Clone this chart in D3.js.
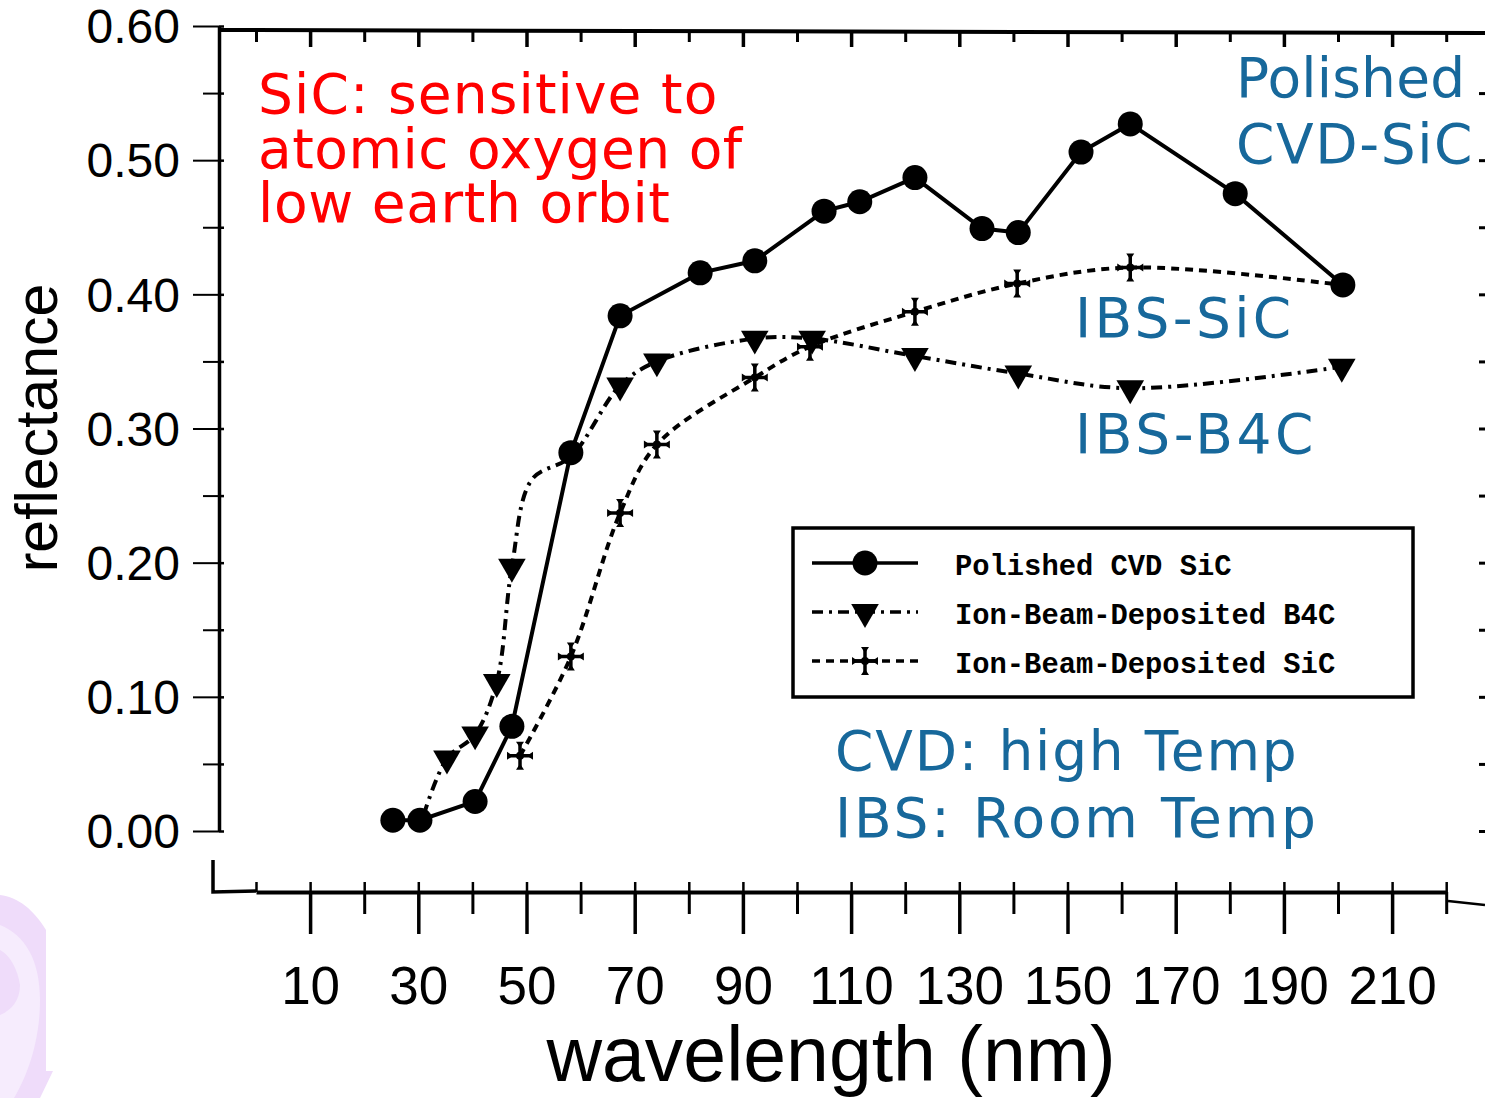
<!DOCTYPE html>
<html>
<meta charset="utf-8">
<script src="https://d3js.org/d3.v7.min.js"></script>
<style>
  body { margin: 0; background: #fff; }
  svg { display: block; }
</style>
<body>
<div id="chart"></div>
<script>
// data (wavelength in nm, reflectance)
const cvdWave = [25.3, 30.3, 40.5, 47.3, 58.2, 67.3, 82.1, 92.2, 105, 111.6, 121.8, 134.2, 140.9, 152.5, 161.6, 181, 200.9];
const cvdRefl = [0.008, 0.008, 0.022, 0.078, 0.282, 0.384, 0.416, 0.425, 0.462, 0.469, 0.487, 0.449, 0.446, 0.506, 0.527, 0.475, 0.407];

const b4cWave = [31, 35.3, 40.5, 44.5, 47.3, 51, 58.2, 67.3, 74.1, 92.2, 102.8, 121.8, 140.9, 161.6, 200.7];
const b4cRefl = [0.012, 0.054, 0.072, 0.111, 0.197, 0.262, 0.279, 0.332, 0.350, 0.367, 0.367, 0.354, 0.341, 0.330, 0.346];
const b4cMark = [0, 1, 1, 1, 1, 0, 0, 1, 1, 1, 1, 1, 1, 1, 1];

const sicWave = [48.8, 58.2, 67.3, 74.1, 92.2, 102.4, 121.8, 140.7, 161.6, 200.7];
const sicRefl = [0.056, 0.130, 0.237, 0.288, 0.338, 0.361, 0.387, 0.408, 0.420, 0.407];
const sicMark = [1, 1, 1, 1, 1, 1, 1, 1, 1, 0];

const xMajor = [10, 30, 50, 70, 90, 110, 130, 150, 170, 190, 210];
const xMinor = [20, 40, 60, 80, 100, 120, 140, 160, 180, 200, 220];
const yMajor = [0, 0.1, 0.2, 0.3, 0.4, 0.5, 0.6];
const yMinor = [0.05, 0.15, 0.25, 0.35, 0.45, 0.55];

const legendLabels = ["Polished CVD SiC", "Ion-Beam-Deposited B4C", "Ion-Beam-Deposited SiC"];

const W = 1485, H = 1098;
const blue = "#17689b";

const svg = d3.select("#chart").append("svg")
  .attr("width", W).attr("height", H);
svg.append("rect").attr("width", W).attr("height", H).attr("fill", "#fff");

// faint logo watermark, bottom left corner
svg.append("path")
  .attr("d", "M0,895 C18,897 34,910 46,930 L46,1071 L53,1071 L40,1098 L0,1098 Z")
  .attr("fill", "#efdcfa");
svg.append("path")
  .attr("d", "M0,925 C25,935 40,960 40,1000 C40,1045 25,1080 14,1098 L0,1098 L0,1015 C12,1010 20,1000 20,985 C18,970 10,955 0,950 Z")
  .attr("fill", "#f6ecfd");

const x = d3.scaleLinear().domain([0, 220]).range([256, 256 + 220 * 5.41]);
const y = d3.scaleLinear().domain([0, 0.6]).range([831, 26]);

const font = "'Liberation Sans', Arial, sans-serif";

// bottom axis
const xAxisY = 892;
svg.append("g").attr("transform", `translate(0,${xAxisY})`)
  .call(d3.axisBottom(x).tickValues(xMajor).tickSize(42).tickPadding(32).tickSizeOuter(0))
  .call(g => g.select(".domain").attr("stroke-width", 4))
  .call(g => g.selectAll(".tick line").attr("stroke-width", 3.5))
  .call(g => g.selectAll(".tick text").attr("font-family", font).attr("font-size", 53).attr("fill", "#000"));
svg.append("g").attr("transform", `translate(0,${xAxisY})`)
  .call(d3.axisBottom(x).tickValues(xMinor).tickSize(22).tickFormat("").tickSizeOuter(0))
  .call(g => g.select(".domain").remove())
  .call(g => g.selectAll(".tick line").attr("stroke-width", 3));
svg.append("g").attr("transform", `translate(0,${xAxisY})`)
  .call(d3.axisTop(x).tickValues(d3.range(0, 221, 10)).tickSize(10).tickFormat("").tickSizeOuter(0))
  .call(g => g.select(".domain").remove())
  .call(g => g.selectAll(".tick line").attr("stroke-width", 2.5));
svg.append("path").attr("d", `M213,860 L213,${xAxisY} L256,${xAxisY - 1}`)
  .attr("fill", "none").attr("stroke", "#000").attr("stroke-width", 3.5);
svg.append("path").attr("d", `M1448,${xAxisY + 9} L1485,${xAxisY + 13}`)
  .attr("fill", "none").attr("stroke", "#000").attr("stroke-width", 2.5);

// left axis
const yAxisX = 219;
svg.append("g").attr("transform", `translate(${yAxisX},0)`)
  .call(d3.axisLeft(y).tickValues(yMajor).tickSize(26).tickPadding(13).tickSizeOuter(0).tickFormat(d3.format(".2f")))
  .call(g => g.select(".domain").attr("stroke-width", 3.5))
  .call(g => g.selectAll(".tick line").attr("stroke-width", 2))
  .call(g => g.selectAll(".tick text").attr("font-family", font).attr("font-size", 48)
    .attr("dy", "0.35em").attr("fill", "#000"));
svg.append("g").attr("transform", `translate(${yAxisX},0)`)
  .call(d3.axisLeft(y).tickValues(yMinor).tickSize(16).tickFormat("").tickSizeOuter(0))
  .call(g => g.select(".domain").remove())
  .call(g => g.selectAll(".tick line").attr("stroke-width", 2));
svg.append("g").attr("transform", `translate(${yAxisX},0)`)
  .call(d3.axisRight(y).tickValues(yMajor.concat(yMinor)).tickSize(5).tickFormat("").tickSizeOuter(0))
  .call(g => g.select(".domain").remove())
  .call(g => g.selectAll(".tick line").attr("stroke-width", 2.5));

// top frame
svg.append("line").attr("x1", yAxisX).attr("y1", 30).attr("x2", W).attr("y2", 33)
  .attr("stroke", "#000").attr("stroke-width", 4);
svg.append("g").attr("transform", "translate(0,31)")
  .call(d3.axisBottom(x).tickValues(xMajor).tickSize(16).tickFormat("").tickSizeOuter(0))
  .call(g => g.select(".domain").remove())
  .call(g => g.selectAll(".tick line").attr("stroke-width", 3.5));
svg.append("g").attr("transform", "translate(0,31)")
  .call(d3.axisBottom(x).tickValues([0].concat(xMinor)).tickSize(11).tickFormat("").tickSizeOuter(0))
  .call(g => g.select(".domain").remove())
  .call(g => g.selectAll(".tick line").attr("stroke-width", 3));

// right frame ticks (axis line itself sits just off the page)
svg.append("g").attr("transform", `translate(${W + 2},0)`)
  .call(d3.axisLeft(y).tickValues(d3.range(0, 0.56, 0.05)).tickSize(8).tickFormat("").tickSizeOuter(0))
  .call(g => g.select(".domain").remove())
  .call(g => g.selectAll(".tick line").attr("stroke-width", 3));

// axis titles
svg.append("text")
  .attr("transform", "translate(57,428) rotate(-90)")
  .attr("text-anchor", "middle")
  .attr("font-family", font).attr("font-size", 59)
  .text("reflectance");
svg.append("text")
  .attr("x", 831).attr("y", 1081)
  .attr("text-anchor", "middle")
  .attr("font-family", font).attr("font-size", 77)
  .text("wavelength (nm)");

// series
const zip = (xs, ys) => xs.map((v, i) => [v, ys[i]]);
const cvd = zip(cvdWave, cvdRefl);
const b4c = zip(b4cWave, b4cRefl);
const sic = zip(sicWave, sicRefl);

const straight = d3.line().x(d => x(d[0])).y(d => y(d[1]));
const smooth = d3.line().x(d => x(d[0])).y(d => y(d[1])).curve(d3.curveCatmullRom.alpha(0.5));

svg.append("path").datum(sic).attr("d", smooth)
  .attr("fill", "none").attr("stroke", "#000").attr("stroke-width", 4)
  .attr("stroke-dasharray", "8,6");
svg.append("path").datum(b4c).attr("d", smooth)
  .attr("fill", "none").attr("stroke", "#000").attr("stroke-width", 4)
  .attr("stroke-dasharray", "11,6,3,6");
svg.append("path").datum(cvd).attr("d", straight)
  .attr("fill", "none").attr("stroke", "#000").attr("stroke-width", 4);

const triangle = d3.symbol().type(d3.symbolTriangle).size(330);
const crossPath = "M0,-13 L0,13 M-12,0 L12,0";
const crossCaps = "M-4,-14 L4,-14 L0,-8 Z M-4,14 L4,14 L0,8 Z M-13,-4 L-13,4 L-7,0 Z M13,-4 L13,4 L7,0 Z";

function drawCross(sel) {
  sel.append("path").attr("d", crossPath).attr("stroke", "#000").attr("stroke-width", 3.5);
  sel.append("path").attr("d", crossCaps).attr("fill", "#000");
  sel.append("circle").attr("r", 4).attr("fill", "#000");
}
function drawTri(sel) {
  sel.append("path").attr("d", triangle).attr("transform", "rotate(180)").attr("fill", "#000");
}

svg.append("g").selectAll("g").data(sic.filter((d, i) => sicMark[i])).join("g")
  .attr("transform", d => `translate(${x(d[0])},${y(d[1])})`)
  .call(drawCross);
svg.append("g").selectAll("g").data(b4c.filter((d, i) => b4cMark[i])).join("g")
  .attr("transform", d => `translate(${x(d[0])},${y(d[1])})`)
  .call(drawTri);
svg.append("g").selectAll("circle").data(cvd).join("circle")
  .attr("cx", d => x(d[0])).attr("cy", d => y(d[1]))
  .attr("r", 12.5).attr("fill", "#000");

// legend
const leg = svg.append("g");
leg.append("rect").attr("x", 793).attr("y", 528).attr("width", 620).attr("height", 169)
  .attr("fill", "#fff").attr("stroke", "#000").attr("stroke-width", 3.5);
const legY = [563, 612, 661];
const legDash = [null, "11,6,3,6", "8,6"];
legendLabels.forEach((lab, i) => {
  leg.append("line").attr("x1", 812).attr("x2", 918).attr("y1", legY[i]).attr("y2", legY[i])
    .attr("stroke", "#000").attr("stroke-width", 3.5).attr("stroke-dasharray", legDash[i]);
  const m = leg.append("g").attr("transform", `translate(865,${legY[i]})`);
  if (i === 0) m.append("circle").attr("r", 12.5).attr("fill", "#000");
  else if (i === 1) drawTri(m);
  else drawCross(m);
  leg.append("text").attr("x", 955).attr("y", legY[i] + 12)
    .attr("font-family", "'Liberation Mono', 'Courier New', monospace")
    .attr("font-weight", "bold").attr("font-size", 28.8)
    .text(lab);
});

// annotations
const note = (lines, x0, y0, dy, color, spacing) => {
  const t = svg.append("text").attr("font-family", "'DejaVu Sans', Verdana, sans-serif")
    .attr("font-size", 55).attr("fill", color);
  lines.forEach((s, i) => t.append("tspan").attr("x", x0).attr("y", y0 + i * dy)
    .attr("letter-spacing", spacing[i]).text(s));
};
note(["SiC: sensitive to", "atomic oxygen of", "low earth orbit"], 258, 113, 54.5, "#ff0000", [1.1, 0.5, 0.6]);
note(["Polished", "CVD-SiC"], 1236, 97, 66, blue, [0.2, 1.6]);
note(["IBS-SiC"], 1075, 337, 0, blue, [3.3]);
note(["IBS-B4C"], 1075, 453, 0, blue, [3.6]);
note(["CVD: high Temp", "IBS: Room Temp"], 835, 770, 67, blue, [1.8, 2.8]);
</script>
</body>
</html>
